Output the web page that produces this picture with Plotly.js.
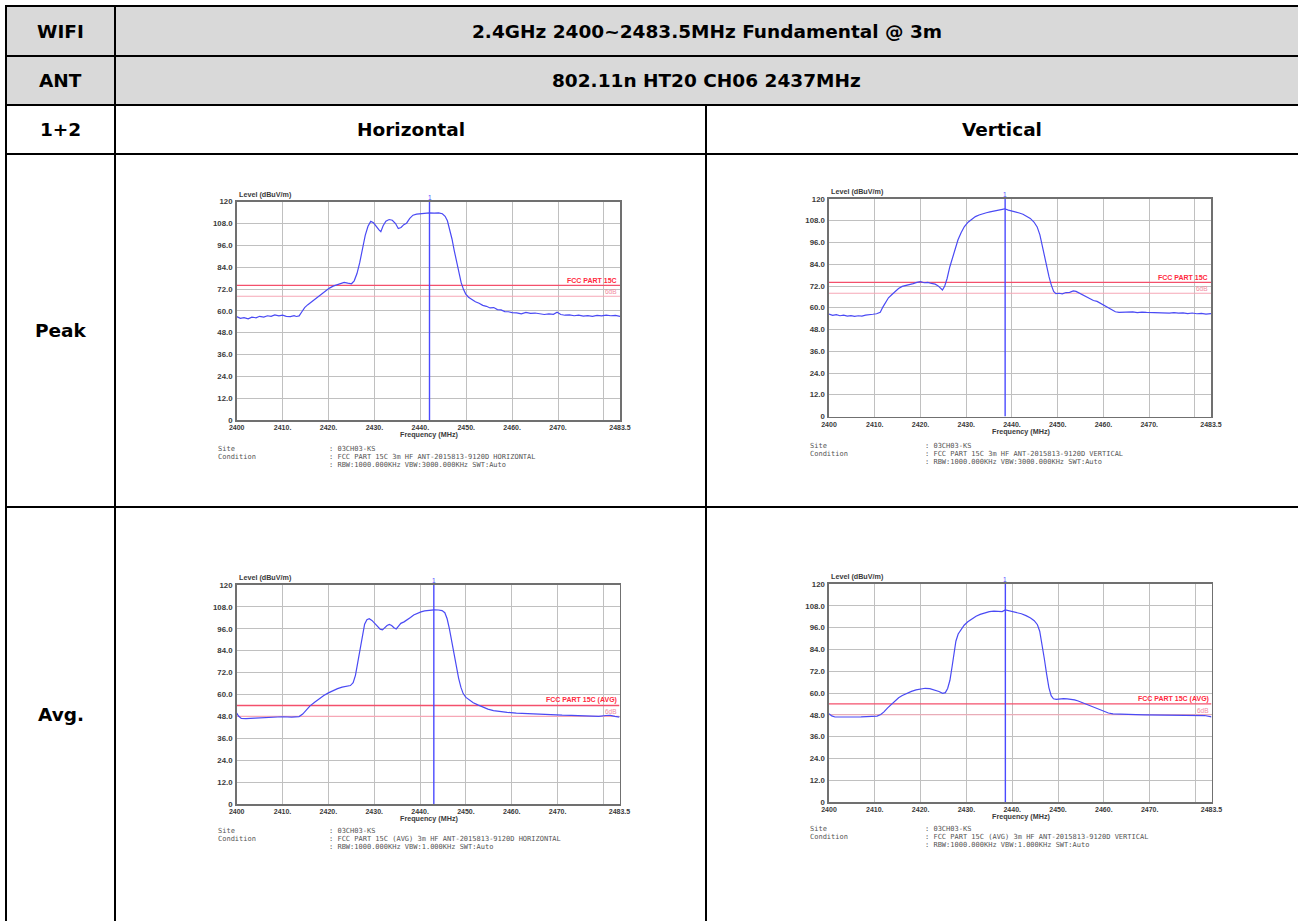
<!DOCTYPE html>
<html>
<head>
<meta charset="utf-8">
<script src="https://cdn.plot.ly/plotly-3.0.1.min.js"></script>
<style>html,body{margin:0;padding:0;background:#fff;}#chart{width:1298px;height:921px;}</style>
</head>
<body>
<div id="chart"></div>
<script>
// ---------------- DATA ----------------
const headerRow1 = ["WIFI", "2.4GHz 2400~2483.5MHz Fundamental @ 3m"];
const headerRow2 = ["ANT", "802.11n HT20 CH06 2437MHz"];
const headerRow3 = ["1+2", "Horizontal", "Vertical"];
const rowLabels = ["Peak", "Avg."];

const xTickVals = [2400, 2410, 2420, 2430, 2440, 2450, 2460, 2470, 2480, 2483.5];
const xTickText = ["2400", "2410.", "2420.", "2430.", "2440.", "2450.", "2460.", "2470.", "", "2483.5"];
const yTickVals = [0, 12, 24, 36, 48, 60, 72, 84, 96, 108, 120];
const yTickText = ["0", "12.0", "24.0", "36.0", "48.0", "60.0", "72.0", "84.0", "96.0", "108.0", "120"];

const peakLimit = 74, peakMargin = 68;
const avgLimit = 54, avgMargin = 48;
const markerFreqs = [2442.0, 2438.5, 2443.0, 2438.5]; // peakH, peakV, avgH, avgV

const peakHFreq = [2400.0,2400.8,2401.6,2402.5,2403.3,2404.2,2405.0,2405.9,2406.7,2407.5,2408.3,2409.2,2410.0,2410.8,2411.7,2412.5,2413.0,2413.6,2414.2,2414.8,2415.5,2416.3,2417.0,2417.8,2418.6,2419.4,2420.2,2421.0,2421.8,2422.6,2423.4,2424.2,2425.0,2425.6,2426.2,2426.8,2427.4,2428.0,2428.6,2429.2,2429.8,2430.4,2431.0,2431.4,2431.9,2432.5,2433.2,2433.9,2434.6,2435.2,2435.8,2436.4,2437.0,2437.7,2438.4,2439.2,2440.0,2441.0,2442.0,2443.0,2444.0,2444.8,2445.4,2445.9,2446.4,2446.9,2447.4,2447.9,2448.4,2448.9,2449.4,2449.9,2450.5,2451.2,2452.0,2452.8,2453.6,2454.4,2455.2,2456.0,2456.8,2457.6,2458.4,2459.2,2460.0,2461.0,2462.0,2463.0,2464.0,2465.0,2466.0,2467.0,2468.0,2469.0,2469.8,2470.6,2471.5,2472.5,2473.5,2474.5,2475.5,2476.5,2477.5,2478.5,2479.5,2480.5,2481.5,2482.5,2483.5];
const peakHLevel = [56.8,55.9,56.3,55.6,56.5,56.2,57.0,56.6,57.3,57.0,57.8,57.2,57.6,57.0,56.8,57.4,56.9,57.2,59.5,61.8,63.4,65.0,66.2,67.5,69.3,71.2,72.5,73.6,74.4,75.0,75.6,75.2,74.9,76.5,80.5,86.5,94.0,101.5,106.5,109.2,108.4,106.2,104.5,103.5,106.8,109.3,110.2,109.8,108.0,105.2,105.8,107.4,108.2,110.8,112.6,113.2,113.5,113.6,113.9,113.7,113.9,113.4,112.0,109.5,105.0,99.5,93.0,86.5,80.5,75.5,71.8,69.2,67.5,66.2,65.0,64.2,63.0,62.5,61.6,61.8,60.7,60.5,59.6,59.5,59.0,58.9,58.4,59.2,58.6,58.8,58.2,58.0,58.3,58.1,59.2,58.0,57.6,57.8,57.3,57.6,57.1,57.4,57.0,57.5,57.2,57.6,57.3,57.5,57.0];

const peakVFreq = [2400.0,2400.8,2401.6,2402.4,2403.2,2404.0,2404.8,2405.6,2406.4,2407.2,2408.0,2408.8,2409.6,2410.4,2411.2,2411.8,2412.4,2413.0,2413.7,2414.4,2415.2,2416.0,2416.8,2417.6,2418.4,2419.2,2420.0,2420.8,2421.6,2422.4,2423.2,2423.8,2424.4,2424.8,2425.3,2425.8,2426.4,2427.0,2427.6,2428.2,2428.9,2429.6,2430.4,2431.2,2432.0,2432.8,2433.6,2434.4,2435.2,2436.0,2436.8,2437.6,2438.4,2439.2,2440.0,2440.8,2441.6,2442.4,2443.2,2444.0,2444.8,2445.5,2446.1,2446.6,2447.1,2447.6,2448.1,2448.6,2449.1,2449.6,2450.3,2451.0,2451.8,2452.6,2453.4,2454.0,2454.6,2455.4,2456.2,2457.0,2457.8,2458.6,2459.4,2460.2,2461.0,2461.8,2462.6,2463.4,2464.4,2465.4,2466.4,2467.4,2468.4,2469.4,2470.4,2471.4,2472.4,2473.4,2474.4,2475.4,2476.4,2477.4,2478.4,2479.4,2480.4,2481.4,2482.4,2483.5];
const peakVLevel = [56.5,55.8,56.2,55.6,55.9,55.4,55.7,55.3,55.6,55.4,55.9,56.0,56.4,56.7,57.5,60.5,63.0,65.5,67.2,69.0,70.6,71.8,72.2,72.6,73.3,74.0,74.4,73.8,74.0,73.4,73.0,72.2,71.0,69.8,72.0,76.0,82.5,88.0,93.5,97.5,101.5,104.8,107.2,109.0,110.3,111.2,112.0,112.4,112.9,113.3,113.6,113.8,114.6,113.9,113.5,112.9,112.3,111.6,110.6,109.3,107.3,104.6,100.2,94.0,88.0,82.0,77.0,72.5,69.0,67.8,68.0,67.7,68.4,68.5,69.3,69.0,68.2,67.5,66.3,65.4,64.0,63.5,62.3,61.0,59.8,58.6,57.8,57.4,57.6,57.4,57.7,57.3,57.6,57.4,57.3,57.6,57.1,57.4,57.0,57.3,57.0,57.2,56.8,57.1,56.7,56.9,56.5,56.8];

const avgHFreq = [2400.0,2400.4,2401.0,2402.0,2404.0,2406.0,2408.0,2410.0,2412.0,2413.6,2414.4,2415.2,2416.0,2417.0,2418.0,2419.0,2420.0,2421.0,2422.0,2423.0,2424.0,2424.8,2425.4,2425.9,2426.4,2426.9,2427.4,2427.9,2428.4,2428.9,2429.5,2430.1,2430.7,2431.3,2431.8,2432.3,2432.8,2433.3,2433.8,2434.3,2434.8,2435.3,2435.8,2436.5,2437.2,2437.9,2438.6,2439.4,2440.2,2441.0,2442.0,2443.0,2444.0,2444.8,2445.4,2445.9,2446.4,2446.9,2447.4,2447.9,2448.4,2448.9,2449.4,2450.0,2450.8,2451.6,2452.6,2453.6,2454.8,2456.0,2457.5,2459.0,2461.0,2463.0,2465.0,2467.0,2469.0,2471.0,2473.0,2475.0,2477.0,2479.0,2480.5,2481.5,2482.5,2483.5];
const avgHLevel = [49.8,48.2,46.9,46.8,47.1,47.4,47.7,47.8,47.6,47.9,49.3,51.5,53.8,55.8,57.8,59.4,60.9,62.2,63.2,64.0,64.5,64.9,66.5,70.5,77.5,85.0,92.5,98.5,101.0,101.5,100.6,99.0,97.6,95.8,95.4,96.6,97.8,98.4,97.8,96.6,95.9,97.5,99.0,99.8,100.8,102.2,103.6,104.6,105.3,105.8,106.2,106.4,106.3,106.0,104.8,101.5,96.0,89.0,82.0,75.0,69.0,64.0,60.5,58.4,56.8,55.5,54.3,53.1,52.0,51.2,50.6,50.2,49.8,49.5,49.2,49.0,48.8,48.7,48.6,48.4,48.2,48.0,48.5,48.6,48.0,47.6];

const avgVFreq = [2400.0,2400.6,2401.3,2403.0,2405.0,2407.0,2409.0,2410.5,2411.3,2412.0,2412.8,2413.6,2414.4,2415.2,2416.0,2417.0,2418.0,2419.0,2420.0,2421.0,2422.0,2423.0,2424.0,2424.8,2425.4,2425.9,2426.4,2426.9,2427.3,2427.7,2428.2,2428.8,2429.5,2430.3,2431.2,2432.1,2433.0,2434.0,2435.0,2436.0,2437.0,2437.8,2438.5,2439.2,2440.0,2441.0,2442.0,2443.0,2444.0,2444.8,2445.5,2446.0,2446.5,2447.0,2447.5,2448.0,2448.5,2449.0,2449.6,2450.4,2451.2,2452.0,2452.8,2453.6,2454.4,2455.2,2456.0,2456.8,2457.6,2458.4,2459.2,2460.0,2461.0,2462.0,2463.5,2465.0,2467.0,2469.0,2471.0,2473.0,2475.0,2477.0,2479.0,2481.0,2482.0,2483.5];
const avgVLevel = [48.6,47.4,46.8,46.7,46.8,46.9,47.0,47.3,48.2,49.6,51.8,53.8,55.7,57.4,58.6,59.9,60.9,61.7,62.3,62.6,62.4,61.7,60.8,59.8,60.2,62.5,67.0,75.0,83.0,88.5,92.5,95.0,97.3,99.2,100.9,102.3,103.3,104.2,104.8,105.1,105.1,104.8,105.7,105.3,105.0,104.4,103.6,102.6,101.3,99.8,97.6,94.0,87.5,79.0,70.5,63.0,58.5,56.8,56.5,56.8,56.9,56.8,56.6,56.2,55.6,54.8,53.9,53.0,52.1,51.2,50.4,49.7,49.0,48.5,48.3,48.2,48.1,48.0,48.0,47.9,47.8,47.9,47.8,48.0,47.6,46.9];

const siteText = ": 03CH03-KS";
const conditionTexts = [
  ": FCC PART 15C 3m HF ANT-2015813-9120D HORIZONTAL",
  ": FCC PART 15C 3m HF ANT-2015813-9120D VERTICAL",
  ": FCC PART 15C (AVG) 3m HF ANT-2015813-9120D HORIZONTAL",
  ": FCC PART 15C (AVG) 3m HF ANT-2015813-9120D VERTICAL"
];
const bwTexts = [
  ": RBW:1000.000KHz VBW:3000.000KHz SWT:Auto",
  ": RBW:1000.000KHz VBW:3000.000KHz SWT:Auto",
  ": RBW:1000.000KHz VBW:1.000KHz SWT:Auto",
  ": RBW:1000.000KHz VBW:1.000KHz SWT:Auto"
];
const limitLabels = ["FCC PART 15C", "FCC PART 15C", "FCC PART 15C (AVG)", "FCC PART 15C (AVG)"];
const marginLabel = "6dB";

// ---------------- LAYOUT ----------------
const W = 1298, H = 921;
const X = p => p / W;
const Y = p => 1 - p / H;

// panel boxes in pixels: [left, right, top, bottom], info block left x, colon x, first info line y
const panels = [
  {l: 236.7, r: 620, t: 201.7, b: 420, infoX: 216, colonX: 327, infoY: 449},
  {l: 829, r: 1211, t: 199, b: 416.5, infoX: 808, colonX: 923, infoY: 446},
  {l: 236.7, r: 619.5, t: 585, b: 804, infoX: 216, colonX: 327, infoY: 831},
  {l: 829, r: 1211.5, t: 584, b: 802, infoX: 808, colonX: 923, infoY: 829}
];
const series = [
  [peakHFreq, peakHLevel, peakLimit, peakMargin],
  [peakVFreq, peakVLevel, peakLimit, peakMargin],
  [avgHFreq, avgHLevel, avgLimit, avgMargin],
  [avgVFreq, avgVLevel, avgLimit, avgMargin]
];

const traceBlue = '#4a4af4';
const limitRed = '#f4506c';
const marginPink = '#f6a7b6';
const chartFont = {family: 'Liberation Sans, Arial, sans-serif', size: 7.8, color: '#3a3a3a', weight: 'bold'};
const xTickFont = {family: 'Liberation Sans, Arial, sans-serif', size: 7, color: '#3a3a3a', weight: 'bold'};
const titleFont = {family: 'Liberation Sans, Arial, sans-serif', size: 7.2, color: '#3a3a3a', weight: 'bold'};
const monoFont = {family: 'DejaVu Sans Mono, monospace', size: 7, color: '#555'};

const data = [];
const layout = {
  width: W, height: H,
  margin: {l: 0, r: 0, t: 0, b: 0},
  paper_bgcolor: '#fff', plot_bgcolor: '#fff',
  showlegend: false,
  shapes: [], annotations: []
};

panels.forEach((p, i) => {
  const n = i + 1;
  const xa = 'x' + (n === 1 ? '' : n), ya = 'y' + (n === 1 ? '' : n);
  const xk = 'xaxis' + (n === 1 ? '' : n), yk = 'yaxis' + (n === 1 ? '' : n);
  const [fx, fy, lim, mar] = series[i];
  const xMin = xTickVals[0], xMax = xTickVals[xTickVals.length - 1];
  const yMax = yTickVals[yTickVals.length - 1];

  layout[xk] = {
    domain: [X(p.l), X(p.r)], anchor: ya, range: [xMin, xMax],
    tickvals: xTickVals, ticktext: xTickText, ticks: '', tickfont: xTickFont,
    showgrid: true, gridcolor: '#c0c0c0', gridwidth: 1, zeroline: false,
    showline: true, linecolor: '#707070', linewidth: 1.6, mirror: true,
    ticklabelstandoff: 0, fixedrange: true
  };
  layout[yk] = {
    domain: [Y(p.b), Y(p.t)], anchor: xa, range: [0, yMax],
    tickvals: yTickVals, ticktext: yTickText, ticks: '', tickfont: chartFont,
    showgrid: true, gridcolor: '#c0c0c0', gridwidth: 1, zeroline: false,
    showline: true, linecolor: '#707070', linewidth: 1.6, mirror: true,
    ticklabelstandoff: 1, fixedrange: true
  };

  // limit & margin lines
  data.push({type: 'scatter', mode: 'lines', x: [xMin, xMax], y: [lim, lim], xaxis: xa, yaxis: ya,
    line: {color: limitRed, width: 1.4}, hoverinfo: 'skip'});
  data.push({type: 'scatter', mode: 'lines', x: [xMin, xMax], y: [mar, mar], xaxis: xa, yaxis: ya,
    line: {color: marginPink, width: 1.1}, hoverinfo: 'skip'});
  // measured trace
  data.push({type: 'scatter', mode: 'lines', x: fx, y: fy, xaxis: xa, yaxis: ya,
    line: {color: traceBlue, width: 1.2}, hoverinfo: 'skip'});
  // marker line
  const mk = markerFreqs[i];
  data.push({type: 'scatter', mode: 'lines', x: [mk, mk], y: [0, yMax + 1.5], xaxis: xa, yaxis: ya,
    line: {color: '#4a4aff', width: 1.4}, cliponaxis: false, hoverinfo: 'skip'});
  layout.annotations.push({xref: xa, yref: ya, x: mk, y: yMax, text: '1', showarrow: false,
    yanchor: 'bottom', yshift: -1, font: {family: 'Liberation Sans, Arial', size: 6.5, color: '#4a4aff'}});

  // limit labels
  layout.annotations.push({xref: xa, yref: ya, x: xMax, y: lim, text: limitLabels[i], showarrow: false,
    xanchor: 'right', yanchor: 'bottom', xshift: -1, yshift: -1,
    font: {family: 'Liberation Sans, Arial', size: 7, color: '#ff2a40', weight: 'bold'}});
  layout.annotations.push({xref: xa, yref: ya, x: xMax, y: mar, text: marginLabel, showarrow: false,
    xanchor: 'right', yanchor: 'bottom', xshift: -1, yshift: -1,
    font: {family: 'Liberation Sans, Arial', size: 6.5, color: '#f28aa0'}});

  // axis titles
  layout.annotations.push({xref: 'paper', yref: 'paper', x: X(p.l), y: Y(p.t - 1), text: 'Level (dBuV/m)',
    showarrow: false, xanchor: 'left', yanchor: 'bottom', font: titleFont});
  layout.annotations.push({xref: 'paper', yref: 'paper', x: X((p.l + p.r) / 2 + 1), y: Y(p.b + 14.5), text: 'Frequency (MHz)',
    showarrow: false, xanchor: 'center', yanchor: 'middle', font: titleFont});

  // info block
  const infoLines = [['Site', siteText], ['Condition', conditionTexts[i]], ['', bwTexts[i]]];
  infoLines.forEach((ln, k) => {
    const yy = p.infoY + k * 8.2;
    if (ln[0]) layout.annotations.push({xref: 'paper', yref: 'paper', x: X(p.infoX), y: Y(yy), text: ln[0],
      showarrow: false, xanchor: 'left', yanchor: 'middle', font: monoFont});
    layout.annotations.push({xref: 'paper', yref: 'paper', x: X(p.colonX), y: Y(yy), text: ln[1],
      showarrow: false, xanchor: 'left', yanchor: 'middle', font: monoFont});
  });
});

// ---------------- TABLE ----------------
const colL = 6, col1 = 115, colMid = 706, colR = 1298;
const rowY = [6, 56, 105, 154, 507, 921];
const lineStyle = {color: '#000', width: 2};
// gray header rows
layout.shapes.push({type: 'rect', xref: 'paper', yref: 'paper', x0: X(colL), x1: X(colR), y0: Y(rowY[2]), y1: Y(rowY[0]),
  fillcolor: '#d9d9d9', line: {width: 0}, layer: 'below'});
// horizontal lines
rowY.slice(0, 5).forEach(yy => layout.shapes.push({type: 'line', xref: 'paper', yref: 'paper',
  x0: X(colL - 1), x1: X(colR), y0: Y(yy), y1: Y(yy), line: lineStyle}));
// vertical lines
layout.shapes.push({type: 'line', xref: 'paper', yref: 'paper', x0: X(colL), x1: X(colL), y0: Y(rowY[0]), y1: 0, line: lineStyle});
layout.shapes.push({type: 'line', xref: 'paper', yref: 'paper', x0: X(col1), x1: X(col1), y0: Y(rowY[0]), y1: 0, line: lineStyle});
layout.shapes.push({type: 'line', xref: 'paper', yref: 'paper', x0: X(colMid), x1: X(colMid), y0: Y(rowY[2]), y1: 0, line: lineStyle});

const cellFont = {family: 'DejaVu Sans, Liberation Sans, Arial, sans-serif', size: 18.5, color: '#000', weight: 'bold'};
function cellText(txt, x0, x1, y0, y1) {
  layout.annotations.push({xref: 'paper', yref: 'paper', x: X((x0 + x1) / 2), y: Y((y0 + y1) / 2), text: txt,
    showarrow: false, xanchor: 'center', yanchor: 'middle', font: cellFont});
}
cellText(headerRow1[0], colL, col1, rowY[0], rowY[1]);
cellText(headerRow1[1], col1, colR, rowY[0], rowY[1]);
cellText(headerRow2[0], colL, col1, rowY[1], rowY[2]);
cellText(headerRow2[1], col1, colR, rowY[1], rowY[2]);
cellText(headerRow3[0], colL, col1, rowY[2], rowY[3]);
cellText(headerRow3[1], col1, colMid, rowY[2], rowY[3]);
cellText(headerRow3[2], colMid, colR, rowY[2], rowY[3]);
cellText(rowLabels[0], colL, col1, rowY[3], rowY[4]);
cellText(rowLabels[1], colL, col1, rowY[4], rowY[5]);

Plotly.newPlot('chart', data, layout, {staticPlot: true, displayModeBar: false});
</script>
</body>
</html>
